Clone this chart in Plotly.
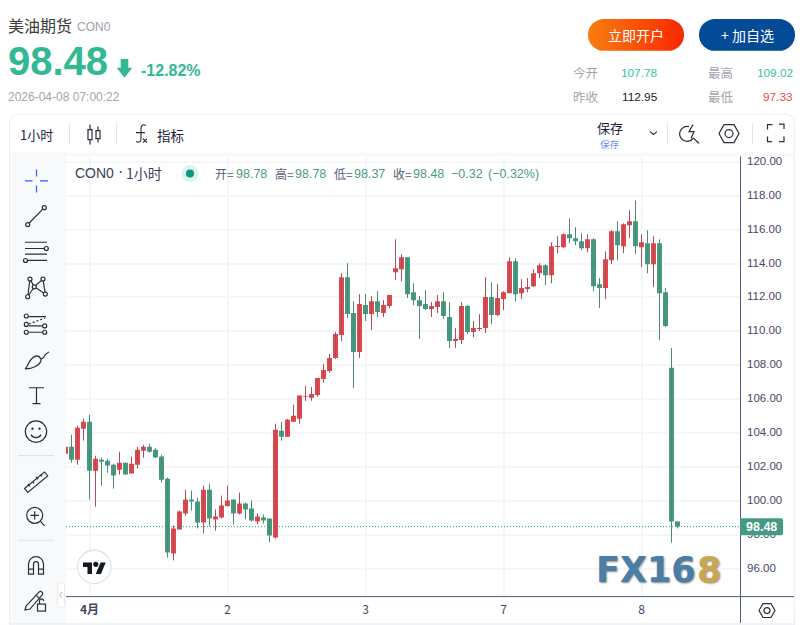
import base64
import plotly.graph_objects as go

W, H = 802, 625

open_ = [102.78,103.19,102.43,104.25,104.66,101.78,102.43,102.37,102.13,101.84,102.25,101.61,102.13,102.96,103.19,103.02,102.61,101.31,96.90,98.31,
         99.25,100.08,99.96,98.72,100.66,98.90,99.02,99.70,100.08,99.25,99.84,99.55,98.78,99.02,98.96,97.84,104.13,103.78,104.66,104.84,
         106.12,106.08,106.25,107.19,107.66,108.43,109.78,113.19,111.08,108.78,111.55,111.02,111.78,111.08,111.49,113.49,113.66,114.37,112.31,111.84,
         111.61,111.31,111.43,111.78,110.84,109.43,109.49,111.49,109.96,110.14,110.19,112.02,110.96,111.90,112.25,114.14,112.25,112.49,112.66,113.43,
         113.90,113.31,114.98,114.96,115.72,115.49,115.31,114.90,115.43,112.78,112.55,114.19,115.90,115.02,116.25,116.49,114.96,115.19,113.96,115.19,
         112.31,107.85,98.78]
high = [103.30,103.90,104.43,104.84,105.08,102.66,102.55,102.49,102.19,102.90,102.25,102.61,103.19,103.31,103.37,103.13,102.72,101.37,98.55,99.43,
        100.66,100.61,100.19,100.90,101.02,99.49,100.31,100.90,100.08,100.49,99.90,100.02,99.25,99.19,98.96,104.55,104.66,104.84,105.66,106.21,
        106.78,106.72,107.25,108.08,108.66,109.96,113.43,114.02,111.78,112.19,112.19,112.08,112.37,111.84,112.14,115.43,114.55,114.37,112.84,112.08,
        112.43,111.72,112.14,112.31,111.72,110.19,111.72,111.55,110.61,111.02,113.19,112.90,112.78,112.37,114.37,114.31,113.08,113.14,113.66,114.02,
        113.96,115.25,115.61,115.78,116.66,116.14,115.78,115.72,115.49,113.14,114.72,115.96,116.49,116.37,117.14,117.72,115.72,115.96,115.61,115.43,
        112.55,109.02,98.78]
low = [102.70,102.25,102.13,103.55,100.08,99.66,100.90,101.66,100.72,101.55,101.55,101.61,101.90,102.55,102.84,102.55,101.08,96.66,96.49,98.31,
       99.13,99.43,98.37,98.08,98.49,98.25,98.96,99.66,98.61,99.19,98.90,98.78,98.61,98.66,97.55,97.78,103.55,103.78,104.66,104.55,
       105.90,105.90,106.14,106.96,107.55,108.37,109.43,110.78,106.66,108.43,110.61,110.08,110.84,110.84,111.37,113.02,112.96,111.96,111.55,109.55,
       111.25,110.84,111.08,110.72,109.02,109.02,109.25,109.84,109.66,110.02,109.90,110.43,110.90,111.25,112.25,111.78,111.90,112.31,112.61,113.14,
       112.72,112.84,114.61,114.90,115.19,115.08,114.78,114.66,112.37,111.37,111.90,113.96,114.19,114.61,115.49,114.55,113.78,113.43,112.61,109.49,
       110.25,97.53,98.37]
close = [103.19,102.43,104.31,104.66,101.78,102.49,102.31,102.08,101.49,102.25,101.55,102.19,103.02,103.19,102.90,102.55,101.25,96.96,98.37,99.37,
         100.08,99.96,98.72,100.66,98.96,99.08,99.72,100.02,99.25,99.84,99.49,98.84,99.08,98.84,97.96,104.19,103.78,104.78,105.02,106.21,
         106.17,106.31,107.25,107.72,108.43,109.84,113.19,111.02,108.78,111.61,111.02,111.78,111.14,111.55,112.14,113.72,114.37,112.19,111.84,111.49,
         111.31,111.49,111.78,110.90,109.43,109.55,111.49,109.96,110.19,110.19,112.02,110.96,111.96,112.31,114.14,112.19,112.55,112.61,113.43,113.90,
         113.31,115.02,115.03,115.72,115.49,115.31,114.90,115.43,112.66,112.55,114.25,115.90,115.08,116.31,116.49,115.02,115.25,113.96,115.19,112.25,
         110.31,98.78,98.48]

tick_idx = [4, 27, 50, 73, 96]
tick_text = ["<b>4月</b>", "2", "3", "7", "8"]
price_ticks = [96, 98, 100, 102, 104, 106, 108, 110, 112, 114, 116, 118, 120]

UP, DOWN = "#e2474e", "#459a84"
UP_WICK, DOWN_WICK = "#a94f5b", "#4d8a6f"
CJK = "Noto Sans CJK SC"
LAT = "Liberation Sans"
n = len(close)
idx = list(range(n))


def wick_xy(up):
    xs, ys = [], []
    for i in idx:
        if (close[i] >= open_[i]) == up:
            xs += [i, i, None]
            ys += [low[i], high[i], None]
    return xs, ys


fig = go.Figure()
for up, col in ((True, UP_WICK), (False, DOWN_WICK)):
    xs, ys = wick_xy(up)
    fig.add_trace(go.Scatter(x=xs, y=ys, mode="lines", line=dict(color=col, width=1),
                             hoverinfo="skip", showlegend=False))
fig.add_trace(go.Candlestick(
    x=idx, open=open_, high=high, low=low, close=close, showlegend=False,
    increasing=dict(fillcolor=UP, line=dict(color=UP, width=0)),
    decreasing=dict(fillcolor=DOWN, line=dict(color=DOWN, width=0)),
))

# ---- page furniture, drawn once as an overlay (icons, buttons, panels)
ST = 'fill="none" stroke="#2a2e39" stroke-width="1.2"'
svg = f'''<svg xmlns="http://www.w3.org/2000/svg" width="{W}" height="{H}" viewBox="0 0 {W} {H}">
<defs><linearGradient id="g" x1="0" x2="1" y1="0" y2="0"><stop offset="0" stop-color="#f77d10"/><stop offset="1" stop-color="#f92800"/></linearGradient></defs>
<rect x="10" y="151" width="785" height="4" fill="#f8f9fb"/>
<rect x="10" y="151" width="56" height="473" fill="#f8f9fb"/>
<rect x="741" y="597" width="53" height="26" fill="#fff"/>
<rect x="9.5" y="112.5" width="785" height="520" rx="9" fill="none" stroke="#eceef4"/>
<line x1="10" x2="795" y1="624" y2="624" stroke="#e4e6ee"/>
<rect x="588" y="17" width="96" height="32" rx="16" fill="url(#g)"/>
<rect x="699" y="17" width="96" height="32" rx="16" fill="#034a97"/>
<path d="M120.7 57.3h7.6V66h4L124.5 76l-7.8-10h4z" fill="#33b894"/>
<g stroke="#e2e4ec"><line x1="69.5" x2="69.5" y1="121" y2="143"/><line x1="116.5" x2="116.5" y1="121" y2="143"/><line x1="667.5" x2="667.5" y1="121" y2="143"/><line x1="752.5" x2="752.5" y1="121" y2="143"/></g>
<g {ST}>
<path d="M88 128h4v10h-4zM90 123v5M90 138v5M96 129h4v8h-4zM98 125v4M98 137v4"/>
<path d="M146 124c-3-2-5 0-5 3v11c0 3-3 3-5 2M136 131h9" stroke-width="1.1"/>
<path d="M143 137l4 4M147 137l-4 4"/>
<path d="M650 130l3.5 3 3.5-3"/>
<path d="M689 125a7.500 7.500 0 1 0 4 12M693 136l6 6M693 123l-4 7h5l-3 7"/>
<path d="M719 132l5-9h10l5 9-5 9h-10z"/><circle cx="729" cy="132" r="4"/>
<path d="M767.5 128v-5h5M779 122.500h5v5M784 135v5h-5M772 140h-4.500v-5"/>
<path d="M759 610.500l4-7h8l4 7-4 7h-8z"/><circle cx="767" cy="610.500" r="3"/>
</g>
<g fill="none" stroke="#2962ff" stroke-width="1.2"><path d="M25 179.500h7.500M40 179.500h8M36.500 168v7M36.500 184v7"/></g>
<g {ST}>
<line x1="29" y1="222" x2="43" y2="207.500"/><circle cx="27.700" cy="223.300" r="2"/><circle cx="44.300" cy="206.300" r="2"/>
<path d="M25 241h22M25 247.300h19M25 253h22M28 259.300h19"/><circle cx="46.300" cy="247.300" r="2"/><circle cx="25.500" cy="259.300" r="2"/>
<path d="M30 278L34.300 285.700L43 278L45.300 293L34.300 285.700L27.700 295.700L30 278"/>
<g fill="#f8f9fb"><circle cx="30" cy="278" r="2"/><circle cx="43" cy="278" r="2"/><circle cx="34.300" cy="285.700" r="2"/><circle cx="45.300" cy="293" r="2"/><circle cx="27.700" cy="295.700" r="2"/></g>
<path d="M29 315.700h17M29 325h13M29 331.300h17"/><path d="M29 323l16-6" stroke-dasharray="2 2"/>
<g fill="#f8f9fb"><circle cx="26.300" cy="315" r="2"/><circle cx="26.300" cy="323.500" r="2"/><circle cx="26.300" cy="331.300" r="2"/><circle cx="44.700" cy="325" r="2"/><circle cx="44.700" cy="331.300" r="2"/></g>
<path d="M25 368c3-1 3-10 11-13c3 0 5 2 5 4c0 5-8 9-16 9zM39 355c1 4 4 4 6-1l4-3"/>
<path d="M29 387h15M36.500 387v16M32.500 403h8"/>
<circle cx="36" cy="431" r="10.700"/><path d="M31 434c2 4 8 4 10 0"/><circle cx="32.500" cy="428" r=".6"/><circle cx="39.500" cy="428" r=".6"/>
<path d="M24.500 488l20-16.500 3.200 4-20 16.500zM30 486l-2-2.500M34 483l-1.500-2M38 479l-2-2.500M42 476l-1.500-2"/>
<circle cx="34.700" cy="515" r="8"/><path d="M30.500 515h8.400M34.700 510.800v8.400M40.500 521l4 4.500"/>
<path d="M28.500 574v-10a7.500 7.500 0 0 1 15 0v10h-5v-10a2.500 2.500 0 0 0-5 0v10zM28.500 569h5M38.500 569h5"/>
<path d="M26 606l13-14c1-1 2-1 3 0c1 1 1 2 0 3l-12 14l-5 1zM36 595l3 3"/>
<rect x="37.500" y="604" width="8" height="7"/><path d="M39.500 604v-3c0-3 4-3 4 0"/>
</g>
<g stroke="#dfe1ea"><line x1="18" x2="54" y1="455" y2="455"/><line x1="18" x2="54" y1="540" y2="540"/></g>
<rect x="57.500" y="582.500" width="7" height="25" rx="3" fill="#fff" stroke="#e8e9f0"/><path d="M62 592l-2.500 3 2.500 3" fill="none" stroke="#b5b8c4"/>
<line x1="66" x2="794" y1="596.500" y2="596.500" stroke="#4c5a7c"/>
<line x1="740.500" x2="740.500" y1="155" y2="623" stroke="#4c5a7c"/>
<circle cx="94.300" cy="566.700" r="16.700" fill="#fff" stroke="#e0e3ef" stroke-width="1.300"/>
<g transform="translate(83,559.700) scale(.64)" fill="#131722"><path d="M14 22H7V11H0V4h14v18zM28 22h-8l7.500-18h8L28 22z"/><circle cx="20" cy="7" r="4"/></g>
<circle cx="190" cy="172" r="8.500" fill="#dff2ee"/><circle cx="190" cy="172" r="4" fill="#089981"/>
<path d="M740 518h41a2 2 0 0 1 2 2v13a2 2 0 0 1-2 2h-41z" fill="#459a84"/>
</svg>'''
uri = "data:image/svg+xml;base64," + base64.b64encode(svg.encode("utf-8")).decode("ascii")

ann = []


def T(text, x, y, size, color, family=CJK, anchor="left", **font):
    ann.append(dict(text=text, x=x / W, y=1 - y / H, xref="paper", yref="paper", xanchor=anchor,
                    yanchor="middle", showarrow=False, borderpad=0, borderwidth=0,
                    font=dict(size=size, color=color, family=family, **font)))


GREY = "#a3a3ad"
TEAL = "#35c2a2"
T("美油期货", 8, 23, 16, "#3c3c3c")
T("CON0", 77, 25, 12, "#a0a0ac", LAT)
T("<b>98.48</b>", 8, 59, 40, "#33b894", LAT)
T("<b>-12.82%</b>", 141, 69, 16, "#33b894", LAT)
T("2026-04-08 07:00:22", 8, 95, 12, GREY, LAT)
T("立即开户", 636, 33, 14, "#ffffff", anchor="center")
T("+ 加自选", 747, 33, 14, "#ffffff", anchor="center")
T("今开", 573, 71, 12.5, GREY)
T("107.78", 658, 71, 11.8, TEAL, LAT, "right")
T("最高", 708, 71, 12.5, GREY)
T("109.02", 793, 71, 11.8, TEAL, LAT, "right")
T("昨收", 573, 95, 12.5, GREY)
T("112.95", 658, 95, 11.8, "#222222", LAT, "right")
T("最低", 708, 95, 12.5, GREY)
T("97.33", 793, 95, 11.8, "#f04b4b", LAT, "right")
T("1小时", 20, 133, 13, "#1e2240")
T("指标", 157, 133, 13.5, "#1e2240")
T("保存", 597, 125.5, 13, "#1e2240")
T("保存", 600, 142, 9.5, "#6b8cff")
T("CON0", 75, 172, 14, "#3a3f58", LAT)
T("·", 118, 170, 16, "#3a3f58", LAT)
T("1小时", 126, 172, 14, "#3a3f58")
LBL, VAL = "#555c75", "#4b9b82"
for lab, lx, val, vx in (("开=", 215, "98.78", 236), ("高=", 275, "98.78", 295),
                         ("低=", 334, "98.37", 354), ("收=", 393, "98.48", 413)):
    T(lab, lx, 172.5, 12, LBL)
    T(val, vx, 172.5, 12.5, VAL, LAT)
T("−0.32", 451, 172.5, 12.5, VAL, LAT)
T("(−0.32%)", 488, 172.5, 12.5, VAL, LAT)
T(f"{close[-1]:.2f}", 761.5, 526.5, 12.5, "#ffffff", LAT, "center", weight=600)
T("<b>FX16</b>", 596, 570, 35, "#4a7ea6", "DejaVu Sans", shadow="1px 1px 2px #8a8a8a")
T("<b>8</b>", 697, 570, 35, "#c9a652", "DejaVu Sans", shadow="1px 1px 2px #8a8a8a")

fig.update_layout(
    width=W, height=H, autosize=False,
    margin=dict(l=0, r=0, t=0, b=0),
    paper_bgcolor="#ffffff", plot_bgcolor="#ffffff",
    boxgap=0.167, boxgroupgap=0,
    showlegend=False, hovermode=False,
    xaxis=dict(domain=[66 / W, 740 / W], range=[(66 - 65.5) / 6, (740 - 65.5) / 6], rangeslider=dict(visible=False),
               tickmode="array", tickvals=tick_idx, ticktext=tick_text, showgrid=True, gridcolor="#f5f6f8",
               gridwidth=2, zeroline=False, ticks="", ticklabelstandoff=4,
               tickfont=dict(size=12, color="#3f4663", family=CJK), fixedrange=True),
    yaxis=dict(domain=[1 - 596.5 / H, 1 - 155 / H], range=[94.353, 120.312], side="right",
               tickmode="array", tickvals=price_ticks, ticktext=[f"{p:.2f}" for p in price_ticks],
               showgrid=True, gridcolor="#f5f6f8", gridwidth=2, zeroline=False, ticks="", ticklabelstandoff=6,
               ticklabelshift=-1,
               tickfont=dict(size=11.5, color="#434a65", family=LAT), fixedrange=True),
    shapes=[dict(type="line", xref="x domain", x0=0, x1=1, yref="y", y0=close[-1], y1=close[-1],
                 line=dict(color="#2e9b7f", width=1, dash="1px,2px"))],
    images=[dict(source=uri, xref="paper", yref="paper", x=0, y=1, sizex=1, sizey=1, xanchor="left",
                 yanchor="top", sizing="stretch", layer="above")],
    annotations=ann,
)

fig.write_html("out.html", config=dict(displayModeBar=False),
               post_script="document.body.style.margin='0';document.body.style.overflow='hidden';")
